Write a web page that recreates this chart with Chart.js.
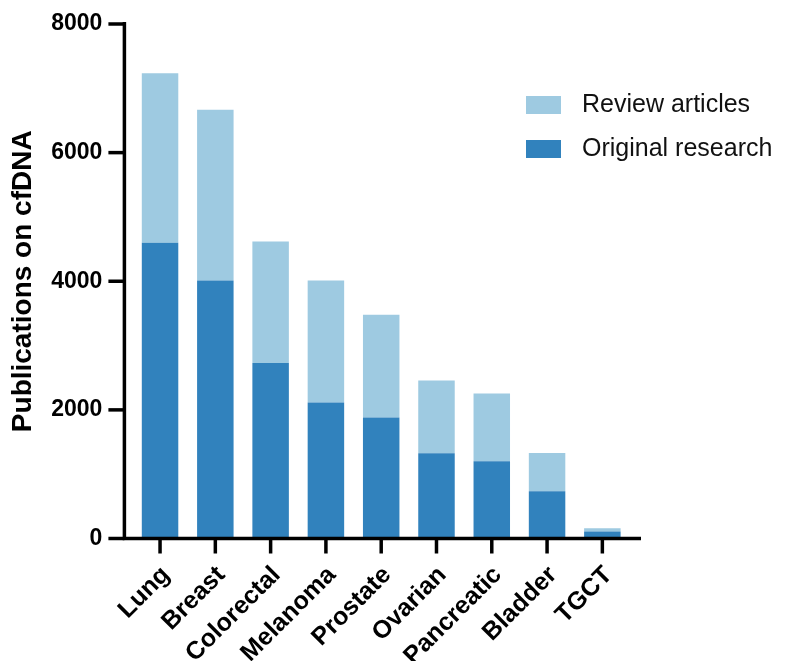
<!DOCTYPE html>
<html>
<head>
<meta charset="utf-8">
<script src="https://cdn.jsdelivr.net/npm/chart.js@4.4.1/dist/chart.umd.min.js"></script>
<style>
  body { margin: 0; background: #fff; }
  canvas { display: block; }
</style>
</head>
<body>
<canvas id="myChart" width="790" height="661"></canvas>
<script>
//-------------------------DATA-----------------------------------------------------

var cancers = ['Lung', 'Breast', 'Colorectal', 'Melanoma', 'Prostate', 'Ovarian', 'Pancreatic', 'Bladder', 'TGCT'];
var original = [4600, 4010, 2730, 2115, 1880, 1325, 1200, 735, 110];      // dark part of each bar
var review = [2635, 2655, 1890, 1895, 1600, 1130, 1055, 595, 50];         // light part stacked on top
var yTicks = [0, 2000, 4000, 6000, 8000];

var lightBlue = '#9ecae1';
var darkBlue = '#3182bd';
var font = "'Liberation Sans', Arial, Helvetica, sans-serif";

//-------------------------PRISM STYLE AXES + LEGEND--------------------------------

var prismAxes = {
    id: 'prismAxes',
    afterDraw: function (chart) {
        var ctx = chart.ctx;
        var x = chart.scales.x;
        var y = chart.scales.y;
        var axisX = chart.chartArea.left - 8;          // y axis sits a little left of first bar
        var axisY = y.getPixelForValue(0);
        ctx.save();
        ctx.strokeStyle = '#000';
        ctx.lineWidth = 3.5;
        ctx.lineCap = 'butt';
        ctx.beginPath();
        ctx.moveTo(axisX, y.getPixelForValue(8000) - 2);
        ctx.lineTo(axisX, axisY);
        ctx.lineTo(chart.chartArea.right + 11, axisY);
        ctx.stroke();
        // y tick marks
        for (let i = 0; i < yTicks.length; i++) {
            let py = y.getPixelForValue(yTicks[i]);
            ctx.beginPath();
            ctx.moveTo(axisX - 16, py);
            ctx.lineTo(axisX, py);
            ctx.stroke();
        }
        // x tick marks
        for (let i = 0; i < cancers.length; i++) {
            let px = x.getPixelForValue(i);
            ctx.beginPath();
            ctx.moveTo(px, axisY);
            ctx.lineTo(px, axisY + 15);
            ctx.stroke();
        }
        // legend, review on top
        var items = chart.data.datasets.slice().reverse();
        ctx.font = '25px ' + font;
        ctx.textBaseline = 'middle';
        ctx.textAlign = 'left';
        for (let i = 0; i < items.length; i++) {
            let top = 96 + i * 44;
            ctx.fillStyle = items[i].backgroundColor;
            ctx.fillRect(526, top, 35, 18);
            ctx.fillStyle = '#111';
            ctx.fillText(items[i].label, 582, top + 9);
        }
        ctx.restore();
    }
};

//-------------------------CHART----------------------------------------------------

var ctx = document.getElementById('myChart').getContext('2d');
var chart = new Chart(ctx, {
    type: 'bar',
    data: {
        labels: cancers,
        datasets: [{
            label: 'Original research',
            data: original,
            backgroundColor: darkBlue
        }, {
            label: 'Review articles',
            data: review,
            backgroundColor: lightBlue
        }]
    },
    options: {
        responsive: false,
        animation: false,
        devicePixelRatio: 1,
        barPercentage: 0.66,
        categoryPercentage: 1,
        layout: { padding: { top: 24, right: 160, bottom: 0, left: 0 } },
        plugins: {
            legend: { display: false },
            tooltip: { enabled: false }
        },
        scales: {
            x: {
                stacked: true,
                grid: { display: false, drawTicks: false },
                border: { display: false },
                afterFit: function (s) { s.height = 122.5; },
                ticks: {
                    autoSkip: false,
                    maxRotation: 45,
                    minRotation: 45,
                    padding: 22,
                    labelOffset: 6,
                    color: '#000',
                    font: { family: font, size: 25, weight: 'bold' }
                }
            },
            y: {
                stacked: true,
                min: 0,
                max: 8000,
                afterFit: function (s) {
                    s.width = 132.4;
                    s.paddingTop = 0;        // tick padding would otherwise push the plot down
                    s.paddingBottom = 0;
                },
                afterBuildTicks: function (s) { s.ticks = yTicks.map(function (v) { return { value: v }; }); },
                grid: { display: false, drawTicks: false },
                border: { display: false },
                ticks: {
                    padding: 30,
                    color: '#000',
                    font: { family: font, size: 23, weight: 'bold' },
                    callback: function (v) { return String(v); }
                },
                title: {
                    display: true,
                    text: 'Publications on cfDNA',
                    color: '#000',
                    padding: { top: 6, bottom: 0 },
                    font: { family: font, size: 28, weight: 'bold' }
                }
            }
        }
    },
    plugins: [prismAxes]
});
</script>
</body>
</html>
